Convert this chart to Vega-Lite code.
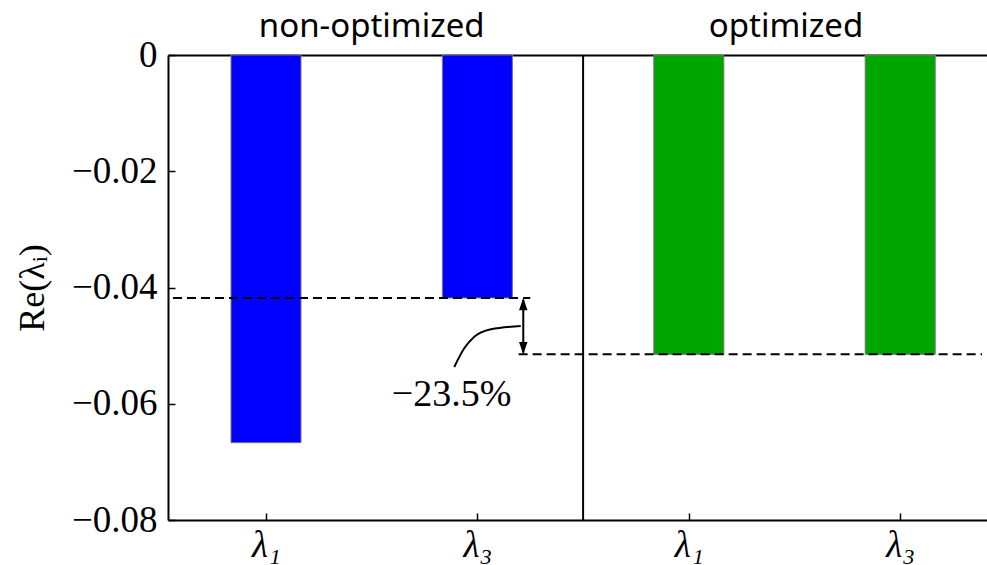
{
  "$schema": "https://vega.github.io/schema/vega-lite/v6.json",
  "autosize": {"type": "none"},
  "padding": {"left": 168, "top": 55, "right": 0, "bottom": 45},
  "width": 819,
  "height": 465,
  "background": "white",
  "config": {
    "view": {"stroke": null},
    "axis": {
      "grid": false,
      "domainColor": "black",
      "domainWidth": 2,
      "tickColor": "black",
      "tickWidth": 1.5,
      "labelColor": "black",
      "labelFont": "Liberation Serif",
      "labelFontSize": 37,
      "titleFont": "Liberation Serif",
      "titleFontSize": 36,
      "titleFontWeight": "normal",
      "titleColor": "black"
    }
  },
  "datasets": {
    "bars": [
      {"panel": "non-optimized", "eig": "λ₁", "pos": 0, "value": -0.0667},
      {"panel": "non-optimized", "eig": "λ₃", "pos": 1, "value": -0.0418},
      {"panel": "optimized", "eig": "λ₁", "pos": 2, "value": -0.0515},
      {"panel": "optimized", "eig": "λ₃", "pos": 3, "value": -0.0515}
    ],
    "divider": [{"x": 1.5}],
    "dashes": [
      {"x": -0.44, "x2": 1.25, "y": -0.0418},
      {"x": 1.195, "x2": 3.387, "y": -0.0515}
    ],
    "arrow": [{"x": 1.217, "y": -0.0421, "y2": -0.0512}],
    "heads": [
      {"x": 1.217, "y": -0.0418, "dir": "up"},
      {"x": 1.217, "y": -0.0515, "dir": "down"}
    ],
    "curve": [
      {"x": 1.2049, "y": -0.04662},
      {"x": 1.0647, "y": -0.04719},
      {"x": 0.9853, "y": -0.04846},
      {"x": 0.9385, "y": -0.05041},
      {"x": 0.8904, "y": -0.05368}
    ],
    "note": [{"x": 0.878, "y": -0.0585, "label": "−23.5%"}],
    "titles": [
      {"x": 0.5, "title": "non-optimized"},
      {"x": 2.46, "title": "optimized"}
    ]
  },
  "resolve": {"axis": {"x": "independent"}},
  "layer": [
    {
      "data": {"name": "bars"},
      "mark": {"type": "bar", "size": 70, "stroke": "#777777", "strokeWidth": 1},
      "encoding": {
        "x": {
          "field": "pos", "type": "quantitative",
          "scale": {"domain": [-0.44, 3.387], "nice": false, "zero": false},
          "axis": {
            "orient": "bottom", "title": null, "values": [0, 1, 2, 3],
            "labelExpr": "datum.value % 2 == 0 ? 'λ₁' : 'λ₃'",
            "tickSize": -7, "labelPadding": 14, "labelFontStyle": "italic"
          }
        },
        "y": {
          "field": "value", "type": "quantitative",
          "scale": {"domain": [-0.08, 0], "nice": false},
          "axis": {
            "title": "Re(λᵢ)", "values": [-0.08, -0.06, -0.04, -0.02, 0],
            "labelExpr": "datum.value == 0 ? '0' : format(datum.value, '.2f')",
            "tickSize": -7, "labelPadding": 18, "titlePadding": 20
          }
        },
        "y2": {"datum": 0},
        "color": {
          "field": "panel", "type": "nominal",
          "scale": {"domain": ["non-optimized", "optimized"], "range": ["#0000ff", "#00a600"]},
          "legend": null
        }
      }
    },
    {
      "data": {"name": "dashes"},
      "mark": {"type": "rule", "color": "black", "strokeWidth": 2, "strokeDash": [9, 5]},
      "encoding": {
        "x": {"field": "x", "type": "quantitative", "axis": null},
        "x2": {"field": "x2"},
        "y": {"field": "y", "type": "quantitative"}
      }
    },
    {
      "data": {"name": "divider"},
      "mark": {"type": "rule", "color": "black", "strokeWidth": 2},
      "encoding": {
        "x": {"field": "x", "type": "quantitative", "axis": null}
      }
    },
    {
      "data": {"name": "arrow"},
      "mark": {"type": "rule", "color": "black", "strokeWidth": 2},
      "encoding": {
        "x": {"field": "x", "type": "quantitative", "axis": null},
        "y": {"field": "y", "type": "quantitative"},
        "y2": {"field": "y2"}
      }
    },
    {
      "data": {"name": "heads"},
      "mark": {"type": "point", "filled": true, "color": "black", "opacity": 1, "size": 240},
      "encoding": {
        "x": {"field": "x", "type": "quantitative", "axis": null},
        "y": {"field": "y", "type": "quantitative"},
        "shape": {
          "field": "dir", "type": "nominal",
          "scale": {"domain": ["up", "down"], "range": ["M0,0L-0.55,1.6L0.55,1.6Z", "M0,0L-0.55,-1.6L0.55,-1.6Z"]},
          "legend": null
        }
      }
    },
    {
      "data": {"name": "curve"},
      "mark": {"type": "line", "color": "black", "strokeWidth": 2, "interpolate": "monotone"},
      "encoding": {
        "x": {"field": "x", "type": "quantitative", "axis": null},
        "y": {"field": "y", "type": "quantitative"}
      }
    },
    {
      "data": {"name": "note"},
      "mark": {"type": "text", "font": "Liberation Serif", "fontSize": 38, "color": "black", "align": "center", "baseline": "middle"},
      "encoding": {
        "x": {"field": "x", "type": "quantitative", "axis": null},
        "y": {"field": "y", "type": "quantitative"},
        "text": {"field": "label"}
      }
    },
    {
      "data": {"name": "titles"},
      "mark": {"type": "text", "font": "Noto Sans", "fontSize": 33, "color": "black", "align": "center", "baseline": "alphabetic", "dy": -18},
      "encoding": {
        "x": {
          "field": "x", "type": "quantitative",
          "axis": {"orient": "top", "title": null, "values": [0, 1, 2, 3], "labels": false, "tickSize": -7}
        },
        "y": {"datum": 0, "type": "quantitative"},
        "text": {"field": "title"}
      }
    }
  ]
}
